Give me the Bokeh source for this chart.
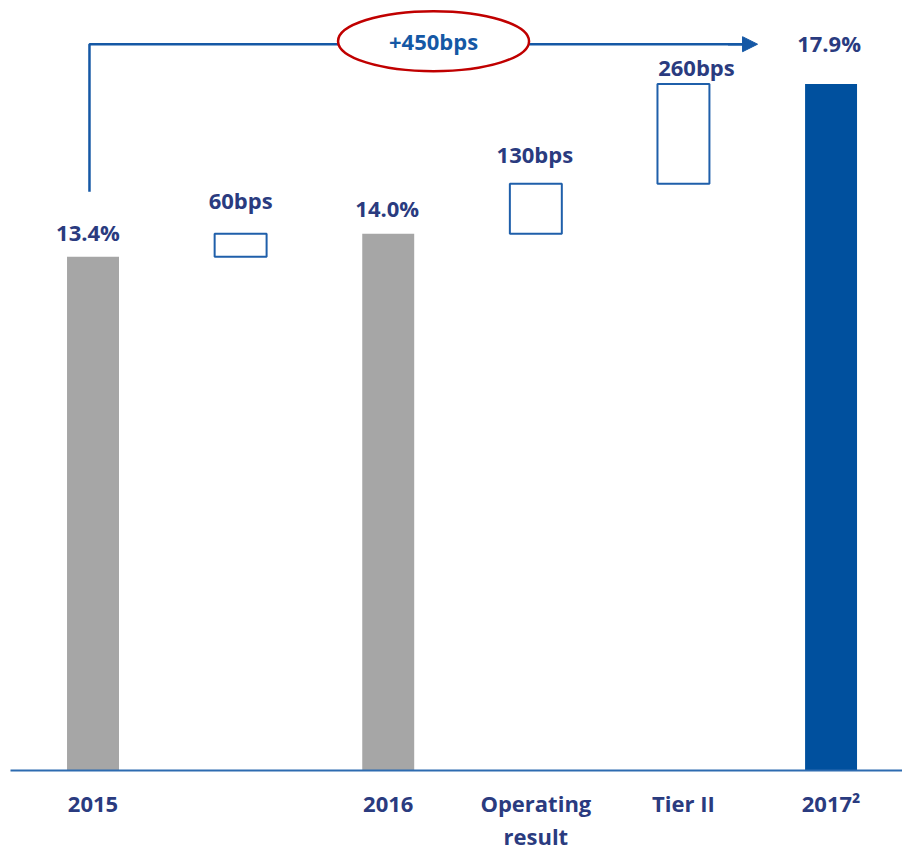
from bokeh.plotting import figure
from bokeh.models import Arrow, NormalHead, FixedTicker, ColumnDataSource
from bokeh.core.properties import value
from bokeh.embed import file_html
from bokeh.resources import INLINE

# ---- data ----
categories = ["2015", "", "2016", "Operating\nresult", "Tier II", "2017²"]
values = [13.4, 0.6, 14.0, 1.3, 2.6, 17.9]
kinds = ["total", "delta", "total", "delta", "delta", "total"]
value_labels = ["13.4%", "60bps", "14.0%", "130bps", "260bps", "17.9%"]
total_change_label = "+450bps"

# label offsets (screen px) - styling only
label_dx = [-5, 0, -1, -1, 13, -2]
label_dy = [25, 34, 26, 30, 17, 41]

NAVY = "#2A3B7F"
LINE_BLUE = "#1558A5"
GRAY = "#A6A6A6"
DARK_BLUE = "#00509E"
RED = "#C00000"

# waterfall computation
xs = list(range(len(categories)))
bottoms, tops = [], []
running = 0.0
for v, k in zip(values, kinds):
    if k == "total":
        bottoms.append(0.0)
        tops.append(v)
        running = v
    else:
        bottoms.append(running)
        running = round(running + v, 4)
        tops.append(running)

total_x = [x for x, k in zip(xs, kinds) if k == "total"]
total_top = [t for t, k in zip(tops, kinds) if k == "total"]
total_color = [GRAY, GRAY, DARK_BLUE]
delta_x = [x for x, k in zip(xs, kinds) if k == "delta"]
delta_bottom = [b for b, k in zip(bottoms, kinds) if k == "delta"]
delta_top = [t for t, k in zip(tops, kinds) if k == "delta"]

p = figure(width=902, height=853, output_backend="svg", toolbar_location=None,
           x_range=(-0.559, 5.484), y_range=(0, 20.08),
           y_axis_location=None, min_border_left=10, min_border_right=0,
           min_border_top=0, min_border_bottom=81)
p.outline_line_color = None
p.grid.visible = False
p.background_fill_color = "white"
p.border_fill_color = "white"

bw = 0.352
p.vbar(x=total_x, top=total_top, bottom=0, width=bw, fill_color=total_color,
       line_color=None)
p.vbar(x=delta_x, top=delta_top, bottom=delta_bottom, width=bw,
       fill_color="white", line_color="#1F5FAA", line_width=2)

src = ColumnDataSource(dict(x=xs, y=tops, t=value_labels, dx=label_dx,
                            dy=[-d for d in label_dy]))
p.text(x="x", y="y", text="t", x_offset="dx", y_offset="dy", source=src,
       text_align="center", text_baseline="middle",
       text_font=value("Open Sans"), text_font_style="bold",
       text_font_size="22px", text_color=NAVY)

# total change bracket (2015 -> 2017)
y_line = 18.94
x_tip = 4.502
x_left = xs[0] - 0.024
p.line(x=[x_left, x_left, x_tip - 0.1], y=[15.09, y_line, y_line],
       line_color=LINE_BLUE, line_width=2.5)
p.add_layout(Arrow(end=NormalHead(size=15, fill_color=LINE_BLUE, line_color=LINE_BLUE),
                   x_start=x_tip - 0.2, y_start=y_line, x_end=x_tip, y_end=y_line,
                   line_color=LINE_BLUE, line_width=2.5))
p.ellipse(x=[2.307], y=[19.02], width=191, height=60, width_units="screen",
          height_units="screen", fill_color="white", line_color=RED, line_width=2.5)
p.text(x=[2.307], y=[19.02], text=[total_change_label], text_align="center",
       text_baseline="middle", text_font=value("Open Sans"), text_font_style="bold",
       text_font_size="22px", text_color=LINE_BLUE)

ax = p.xaxis[0]
ax.ticker = FixedTicker(ticks=xs)
ax.major_label_overrides = {i: c for i, c in enumerate(categories)}
ax.major_tick_line_color = None
ax.minor_tick_line_color = None
ax.axis_line_color = "#2D6BB0"
ax.axis_line_width = 2
ax.major_label_standoff = 11
ax.major_label_text_font = "Open Sans"
ax.major_label_text_font_style = "bold"
ax.major_label_text_font_size = "22px"
ax.major_label_text_color = NAVY
ax.major_label_text_line_height = 1.1

open("out.html", "w").write(file_html(p, INLINE))
